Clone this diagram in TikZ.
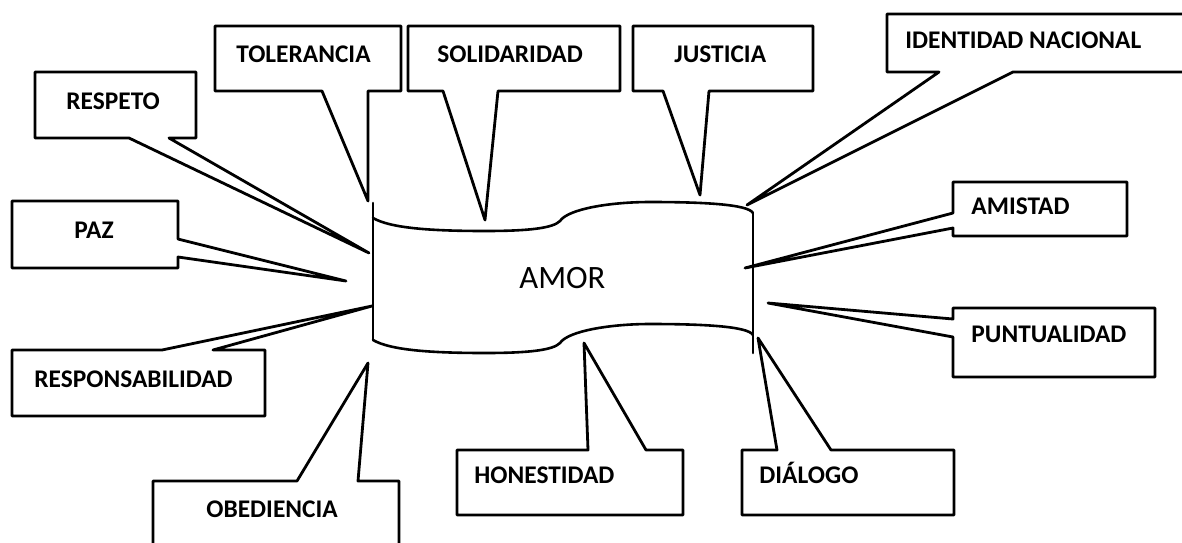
\documentclass[tikz,border=0pt]{standalone}
\usepackage{fontspec}
\setmainfont{Carlito}
\begin{document}
\begin{tikzpicture}[x=0.5pt,y=-0.5pt,
  callout/.style={draw=black,line width=1.4pt,line join=round,fill=white},
  banner/.style={draw=black,line width=1.3pt,line cap=round},
  lbl/.style={anchor=base west,inner sep=0pt,font=\fontsize{12.7pt}{14pt}\selectfont\bfseries},
  big/.style={anchor=base west,inner sep=0pt,font=\fontsize{16.3pt}{18pt}\selectfont}]
\useasboundingbox (0,0) rectangle (1182,542);
\clip (0,0) rectangle (1182,542);
% tips
\coordinate (tTol) at (368,201);
\coordinate (tRes) at (369,253);
\coordinate (tPaz) at (346,281);
\coordinate (tRsp) at (372,306);
\coordinate (tObe) at (368,363);
\coordinate (tSol) at (485,220);
\coordinate (tJus) at (700,195);
\coordinate (tIde) at (747,205);
\coordinate (tAmi) at (745,268);
\coordinate (tPun) at (768,303);
\coordinate (tDia) at (758,338);
\coordinate (tHon) at (584,343);
% callouts
\draw[callout] (215,26) -- (401,26) -- (401,91) -- (368,91) -- (tTol) -- (322,91) -- (215,91) -- cycle;
\draw[callout] (35,72) -- (196,72) -- (196,138) -- (169,138) -- (tRes) -- (129,138) -- (35,138) -- cycle;
\draw[callout] (12,201) -- (178,201) -- (178,239) -- (tPaz) -- (178,257) -- (178,268) -- (12,268) -- cycle;
\draw[callout] (12,350) -- (162,350) -- (tRsp) -- (213,350) -- (265,350) -- (265,416) -- (12,416) -- cycle;
\draw[callout] (153,560) -- (153,481) -- (297,481) -- (tObe) -- (358,481) -- (399,481) -- (399,560);
\draw[callout] (408,26) -- (620,26) -- (620,91) -- (498,91) -- (tSol) -- (443,91) -- (408,91) -- cycle;
\draw[callout] (633,26) -- (813,26) -- (813,91) -- (709,91) -- (tJus) -- (663,91) -- (633,91) -- cycle;
\draw[callout] (887,14) -- (1195,14) -- (1195,72) -- (1013,72) -- (tIde) -- (939,72) -- (887,72) -- cycle;
\draw[callout] (953,182) -- (1127,182) -- (1127,236) -- (953,236) -- (953,228) -- (tAmi) -- (953,213) -- cycle;
\draw[callout] (953,308) -- (1155,308) -- (1155,377) -- (953,377) -- (953,337) -- (tPun) -- (953,319) -- cycle;
\draw[callout] (742,450) -- (777,450) -- (tDia) -- (831,450) -- (954,450) -- (954,515) -- (742,515) -- cycle;
\draw[callout] (457,450) -- (588,450) -- (tHon) -- (646,450) -- (683,450) -- (683,515) -- (457,515) -- cycle;
% banner
\draw[banner] (373,218) .. controls (390,228) and (430,231) .. (485,231)
  .. controls (530,231) and (553,228) .. (560,221)
  .. controls (568,209) and (610,202) .. (650,202)
  .. controls (700,202) and (748,204) .. (753,213);
\draw[banner] (373,340) .. controls (390,350) and (430,353) .. (485,353)
  .. controls (530,353) and (553,350) .. (560,343)
  .. controls (568,331) and (610,324) .. (650,324)
  .. controls (700,324) and (748,326) .. (753,335);
\draw[banner] (373,203) -- (373,340);
\draw[banner] (753,213) -- (753,353);
\node[big] (amor) at (519,288) {AMOR};
% labels
\node[lbl] (tol) at (236,62) {TOLERANCIA};
\node[lbl] (res) at (66,109) {RESPETO};
\node[lbl] (paz) at (74,238) {PAZ};
\node[lbl] (sol) at (437,62) {SOLIDARIDAD};
\node[lbl] (jus) at (674,62) {JUSTICIA};
\node[lbl] (ide) at (905,48) {IDENTIDAD NACIONAL};
\node[lbl] (ami) at (971,214) {AMISTAD};
\node[lbl] (pun) at (971,342) {PUNTUALIDAD};
\node[lbl] (dia) at (759,483) {DIÁLOGO};
\node[lbl] (hon) at (474,483) {HONESTIDAD};
\node[lbl] (rsp) at (34,387) {RESPONSABILIDAD};
\node[lbl] (obe) at (206,517) {OBEDIENCIA};
\end{tikzpicture}
\end{document}
